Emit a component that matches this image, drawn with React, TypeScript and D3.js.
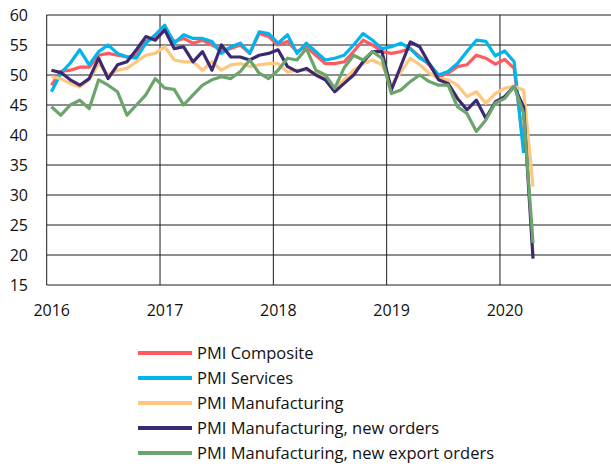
import React from "react";
import * as d3 from "d3";

const composite = [
  48.3, 50.6, 50.8, 51.3, 51.3, 53.3, 53.6, 53.3, 53.0, 53.3, 55.6, 56.4,
  57.8, 55.6, 56.1, 55.3, 55.8, 55.0, 54.2, 54.4, 55.0, 53.6, 56.9, 56.4,
  55.0, 55.6, 53.9, 54.7, 53.3, 51.9, 51.9, 52.2, 53.9, 55.8, 55.0, 53.9,
  53.6, 53.9, 54.4, 53.1, 51.7, 49.7, 50.3, 51.4, 51.7, 53.3, 52.8, 51.8,
  52.6, 51.1, 38.0,
];
const services = [
  47.2, 50.3, 52.0, 54.2, 51.7, 53.9, 55.0, 53.6, 53.0, 52.8, 55.3, 56.7,
  58.3, 55.3, 56.7, 56.1, 56.1, 55.6, 53.6, 54.7, 55.3, 53.6, 57.2, 56.9,
  55.3, 56.7, 53.6, 55.3, 53.9, 52.5, 52.8, 53.3, 55.0, 56.9, 55.8, 54.4,
  54.7, 55.3, 54.4, 52.8, 51.9, 50.0, 50.6, 51.9, 53.9, 55.8, 55.6, 53.2,
  54.0, 52.2, 37.0,
];
const manufacturing = [
  49.7, 49.4, 48.6, 48.0, 49.2, 51.9, 50.0, 50.8, 51.1, 52.2, 53.3, 53.6,
  54.7, 52.5, 52.2, 52.2, 50.8, 52.2, 50.8, 51.7, 51.9, 51.4, 51.7, 51.9,
  51.9, 50.5, 50.8, 50.8, 50.3, 49.6, 47.8, 49.2, 50.8, 51.9, 52.5, 51.7,
  48.3, 50.5, 52.8, 51.7, 50.3, 49.4, 49.2, 48.3, 46.4, 47.2, 45.3, 46.9,
  47.8, 48.1, 47.5, 31.4,
];
const newOrders = [
  50.8, 50.4, 49.2, 48.3, 49.4, 52.8, 49.4, 51.7, 52.2, 54.2, 56.4, 55.8,
  57.5, 54.4, 54.7, 52.2, 53.9, 50.8, 55.0, 53.0, 53.0, 52.5, 53.3, 53.6,
  54.2, 51.4, 50.6, 51.1, 50.0, 49.2, 47.2, 48.6, 50.0, 52.2, 53.9, 53.9,
  47.5, 51.5, 55.5, 54.7, 51.9, 49.2, 48.6, 46.1, 44.2, 45.8, 42.8, 45.5,
  46.4, 48.1, 44.7, 19.4,
];
const exportOrders = [
  44.7, 43.3, 45.0, 45.8, 44.4, 49.2, 48.3, 47.2, 43.3, 45.0, 46.7, 49.4,
  47.8, 47.6, 45.0, 46.7, 48.3, 49.2, 49.7, 49.4, 50.6, 52.5, 50.3, 49.4,
  50.8, 52.8, 52.5, 54.4, 50.8, 50.0, 47.8, 51.2, 53.3, 52.5, 53.9, 52.8,
  46.9, 47.5, 48.9, 50.0, 48.9, 48.3, 48.3, 44.7, 43.6, 40.6, 42.5, 45.3,
  46.1, 48.1, 43.6, 22.0,
];

const seriesNames = [
  "PMI Composite",
  "PMI Services",
  "PMI Manufacturing",
  "PMI Manufacturing, new orders",
  "PMI Manufacturing, new export orders",
];
const seriesColors = ["#FF5A5F", "#00B4EE", "#FFC67F", "#3B2A72", "#6BA56B"];
const seriesData = [composite, services, manufacturing, newOrders, exportOrders];

const yTicks = [15, 20, 25, 30, 35, 40, 45, 50, 55, 60];
const yearTicks = [2016, 2017, 2018, 2019, 2020];

const W = 611;
const H = 469;
const FONT = "'Open Sans', Lato, sans-serif";

export default function App() {
  const x = d3.scaleLinear().domain([2016, 2021]).range([46.7, 613.3]);
  const y = d3.scaleLinear().domain([15, 60]).range([285, 15]);
  const monthX = (i: number) => x(2016 + (i + 0.5) / 12);

  const line = d3
    .line<number>()
    .x((_, i) => monthX(i))
    .y((d) => y(d));

  return (
    <svg
      width={W}
      height={H}
      style={{ position: "absolute", left: 0, top: 0, background: "#fff" }}
      fontFamily={FONT}
    >
      <g>
        {yTicks.map((t) => (
          <line key={"h" + t} x1={x(2016)} x2={W} y1={y(t)} y2={y(t)} stroke="#1c1c1c" strokeWidth={1} />
        ))}
        {yearTicks.map((t) => (
          <line key={"v" + t} x1={x(t)} x2={x(t)} y1={y(60)} y2={y(15)} stroke="#1c1c1c" strokeWidth={1} />
        ))}
      </g>
      <g>
        {seriesData.map((s, k) => (
          <path
            key={k}
            d={line(s) || ""}
            fill="none"
            stroke={seriesColors[k]}
            strokeWidth={3.2}
            strokeLinejoin="round"
          />
        ))}
      </g>
      <g fontSize={16} fill="#111">
        {yTicks.map((t) => (
          <text key={"yl" + t} x={28} y={y(t)} dy="0.35em" textAnchor="end">
            {t}
          </text>
        ))}
        {yearTicks.map((t) => (
          <text key={"xl" + t} x={x(t) + 5} y={316} textAnchor="middle">
            {t}
          </text>
        ))}
      </g>
      <g fontSize={16.5} fill="#111">
        {seriesNames.map((n, k) => (
          <g key={n} transform={`translate(0, ${353 + k * 25})`}>
            <line x1={138} x2={192} y1={0} y2={0} stroke={seriesColors[k]} strokeWidth={4} />
            <text x={197} y={0} dy="0.35em">
              {n}
            </text>
          </g>
        ))}
      </g>
    </svg>
  );
}
